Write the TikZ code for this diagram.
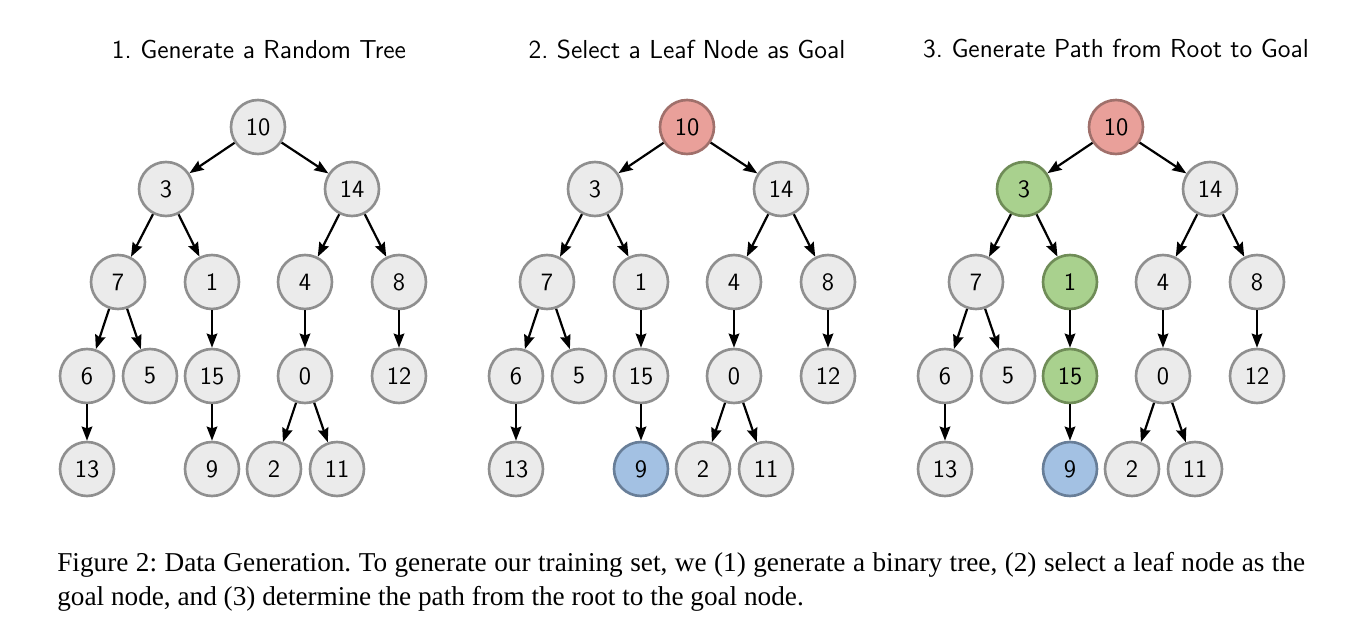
\documentclass[tikz,border=0pt]{standalone}
\usepackage{fontspec}
\setmainfont{Liberation Serif}
\usetikzlibrary{arrows.meta}
\definecolor{nodegrey}{HTML}{EBEBEB}
\definecolor{nodeline}{HTML}{8F8F8F}
\definecolor{rootred}{HTML}{E9A09A}
\definecolor{rootline}{HTML}{A0706B}
\definecolor{pathgreen}{HTML}{A9D18E}
\definecolor{pathline}{HTML}{6F8C57}
\definecolor{goalblue}{HTML}{A3C1E3}
\definecolor{goalline}{HTML}{687E98}

\tikzset{
  treenode/.style={circle, draw=nodeline, fill=nodegrey, line width=1.5pt,
    minimum size=1.08cm, inner sep=0pt, font=\sffamily\fontsize{14.2}{16}\selectfont},
  rootnode/.style={treenode, draw=rootline, fill=rootred},
  pathnode/.style={treenode, draw=pathline, fill=pathgreen},
  goalnode/.style={treenode, draw=goalline, fill=goalblue},
  edge/.style={-{Stealth[length=8pt,width=6pt,inset=1pt]}, line width=1.25pt},
  steptitle/.style={font=\sffamily\fontsize{14.8}{17}\selectfont},
}

\begin{document}
\begin{tikzpicture}[x=0.02cm, y=-0.02cm]
  \useasboundingbox (0,0) rectangle (1363,634);

  % Step titles
  \node[steptitle] (title1) at (259,49) {1.\ Generate a Random Tree};
  \node[steptitle] (title2) at (687,49) {2.\ Select a Leaf Node as Goal};
  \node[steptitle] (title3) at (1116,49) {3.\ Generate Path from Root to Goal};

  % The same tree three times, coloured per step
  \foreach \t/\dx/\rootsty/\pathsty/\goalsty in
      {1/0/treenode/treenode/treenode,
       2/429/rootnode/treenode/goalnode,
       3/858/rootnode/pathnode/goalnode} {
    \node[\rootsty] (t\t-10) at (\dx+258,127) {10};
    \node[\pathsty] (t\t-3)  at (\dx+166,189) {3};
    \node[treenode] (t\t-14) at (\dx+352,189) {14};
    \node[treenode] (t\t-7)  at (\dx+118,282) {7};
    \node[\pathsty] (t\t-1)  at (\dx+212,282) {1};
    \node[treenode] (t\t-4)  at (\dx+305,282) {4};
    \node[treenode] (t\t-8)  at (\dx+399,282) {8};
    \node[treenode] (t\t-6)  at (\dx+87,376)  {6};
    \node[treenode] (t\t-5)  at (\dx+150,376) {5};
    \node[\pathsty] (t\t-15) at (\dx+212,376) {15};
    \node[treenode] (t\t-0)  at (\dx+305,376) {0};
    \node[treenode] (t\t-12) at (\dx+399,376) {12};
    \node[treenode] (t\t-13) at (\dx+87,469)  {13};
    \node[\goalsty] (t\t-9)  at (\dx+212,469) {9};
    \node[treenode] (t\t-2)  at (\dx+274,469) {2};
    \node[treenode] (t\t-11) at (\dx+337,469) {11};

    \foreach \a/\b in {10/3, 10/14, 3/7, 3/1, 14/4, 14/8, 7/6, 7/5,
                       1/15, 4/0, 8/12, 6/13, 15/9, 0/2, 0/11}
      \draw[edge] (t\t-\a) -- (t\t-\b);
  }

  % Caption
  \node[anchor=north west, inner sep=0pt, text width=24.96cm, align=justify,
        font=\frenchspacing\fontsize{15.5}{19.3}\selectfont] (caption) at (57,552) {%
    Figure 2: Data Generation. To generate our training set, we (1) generate a binary tree, (2) select a leaf node as the\linebreak
    goal node, and (3) determine the path from the root to the goal node.};
\end{tikzpicture}
\end{document}
